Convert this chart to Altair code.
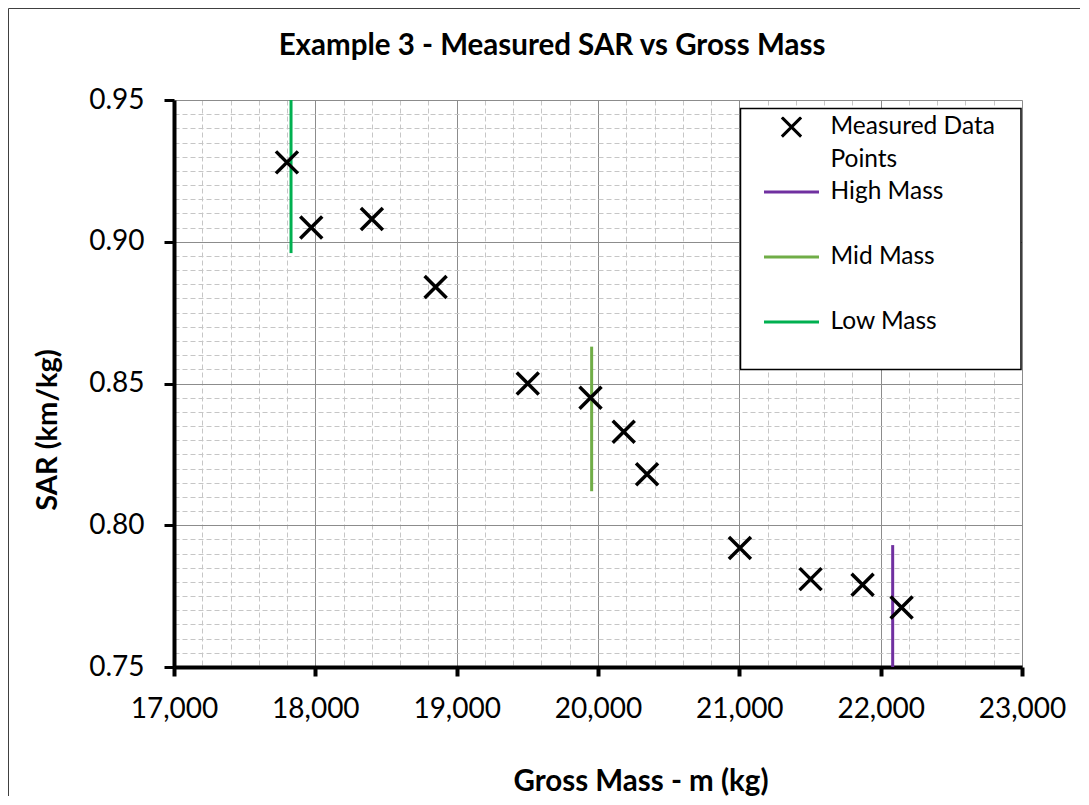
import altair as alt
import pandas as pd

# ---- data ----
mass = [17799, 17971, 18400, 18851, 19503, 19947, 20182, 20347, 21004, 21504, 21872, 22148]
sar = [0.928, 0.905, 0.908, 0.884, 0.850, 0.845, 0.833, 0.818, 0.792, 0.781, 0.779, 0.771]

line_series = ["High Mass", "Mid Mass", "Low Mass"]
line_mass = [22085, 19955, 17828]
line_sar_top = [0.793, 0.863, 0.95]
line_sar_bottom = [0.75, 0.812, 0.896]

series_names = ["Measured Data Points", "High Mass", "Mid Mass", "Low Mass"]
series_colors = ["#000000", "#7030A0", "#70AD47", "#00B050"]

x_ticks = list(range(17000, 23001, 200))
y_ticks = [round(0.75 + 0.005 * i, 3) for i in range(41)]

X_PATH = "M-0.35,-0.35L0.35,0.35M-0.35,0.35L0.35,-0.35"
LINE_PATH = "M-1,0L1,0"
series_shapes = [X_PATH, LINE_PATH, LINE_PATH, LINE_PATH]

points = pd.DataFrame({"mass": mass, "sar": sar, "series": series_names[0]})
lines = pd.DataFrame({"mass": line_mass, "top": line_sar_top,
                      "bottom": line_sar_bottom, "series": line_series})

FONT = "Lato"
MAJX = "datum.value % 1000 == 0"
MAJY = "round(datum.value * 1000) % 50 == 0"

x_scale = alt.Scale(domain=[17000, 23000], nice=False, zero=False)
y_scale = alt.Scale(domain=[0.75, 0.95], nice=False, zero=False)

x_axis = alt.Axis(
    values=x_ticks, title="Gross Mass - m (kg)",
    labelExpr=f"{MAJX} ? format(datum.value, ',') : ''",
    labelFont=FONT, labelFontSize=28, labelColor="black", labelPadding=19,
    labelFlush=False, labelOverlap=False,
    titleFont=FONT, titleFontSize=29.5, titleFontWeight="bold", titleColor="black",
    titleX=466.5, titleY=114, titleBaseline="middle", titleAlign="center",
    domainColor="black", domainWidth=4,
    tickColor="black", tickWidth=4, tickSize=9,
    tickOpacity={"condition": {"test": MAJX, "value": 1}, "value": 0},
    grid=True,
    gridColor={"condition": {"test": MAJX, "value": "#8c8c8c"}, "value": "#c6c6c6"},
    gridDash={"condition": {"test": MAJX, "value": []}, "value": [5, 3]},
    gridWidth=1,
)
y_axis = alt.Axis(
    values=y_ticks, title="SAR (km/kg)",
    labelExpr=f"{MAJY} ? format(datum.value, '.2f') : ''",
    labelFont=FONT, labelFontSize=28, labelColor="black", labelPadding=20,
    labelFlush=False, labelOverlap=False,
    titleFont=FONT, titleFontSize=29, titleFontWeight="bold", titleColor="black",
    titleX=-126.5, titleY=329.5, titleBaseline="middle", titleAlign="center",
    titleAngle=270,
    domainColor="black", domainWidth=4,
    tickColor="black", tickWidth=3, tickSize=10,
    tickOpacity={"condition": {"test": MAJY, "value": 1}, "value": 0},
    grid=True,
    gridColor={"condition": {"test": MAJY, "value": "#8c8c8c"}, "value": "#c6c6c6"},
    gridDash={"condition": {"test": MAJY, "value": []}, "value": [5, 3]},
    gridWidth=1,
)

legend = alt.Legend(
    title=None, orient="none", legendX=566.5, legendY=8.5,
    labelExpr="datum.label == 'Measured Data Points' ? ['Measured Data', 'Points'] : datum.label",
    labelFont=FONT, labelFontSize=24.5, labelColor="black", labelOffset=10, labelLimit=300,
    symbolSize=3025, symbolStrokeWidth=3, symbolOffset=14,
    clipHeight=21, gridAlign="all", rowPadding=7, padding=8,
)

color = alt.Color("series:N", title=None,
                  scale=alt.Scale(domain=series_names, range=series_colors),
                  legend=legend)
shape = alt.Shape("series:N", title=None,
                  scale=alt.Scale(domain=series_names, range=series_shapes),
                  legend=legend)

pts = alt.Chart(points).mark_point(size=3950, filled=False, strokeWidth=3.5, opacity=1).encode(
    x=alt.X("mass:Q", scale=x_scale, axis=x_axis),
    y=alt.Y("sar:Q", scale=y_scale, axis=y_axis),
    color=color,
    shape=shape,
)

rules = alt.Chart(lines).mark_rule(strokeWidth=3).encode(
    x=alt.X("mass:Q", scale=x_scale, axis=x_axis),
    y=alt.Y("top:Q", scale=y_scale, axis=y_axis),
    y2="bottom:Q",
    color=color,
)

deco = pd.DataFrame({"k": [0]})
# legend frame (decoration behind the legend entries)
legend_box = alt.Chart(deco).mark_rect(fill="white", stroke="black", strokeWidth=1.5).encode(
    x=alt.value(566.5), x2=alt.value(847), y=alt.value(8.5), y2=alt.value(269.5))
# outer chart-area border (top and left edges visible in the reference)
frame_top = alt.Chart(deco).mark_rule(color="#404040", strokeWidth=1).encode(
    x=alt.value(-165.5), x2=alt.value(906), y=alt.value(-91.5))
frame_left = alt.Chart(deco).mark_rule(color="#404040", strokeWidth=1).encode(
    x=alt.value(-165.5), y=alt.value(-91.5), y2=alt.value(696))

chart = alt.layer(frame_top, frame_left, legend_box, rules, pts).properties(
    width=848, height=567,
    title=alt.Title("Example 3 - Measured SAR vs Gross Mass", font=FONT, fontSize=29.5,
                    fontWeight="bold", color="black", anchor="middle", frame="group",
                    dx=-46, offset=0, dy=76, baseline="alphabetic"),
    autosize=alt.AutoSizeParams(type="none"),
    padding={"left": 166, "top": 92, "right": 58, "bottom": 130},
).configure_view(stroke="#8c8c8c", strokeWidth=1).configure(
    background="white",
    style={"guide-label": {"lineHeight": 33}},
)

chart.save("out.html", embed_options={"renderer": "svg", "actions": False})
